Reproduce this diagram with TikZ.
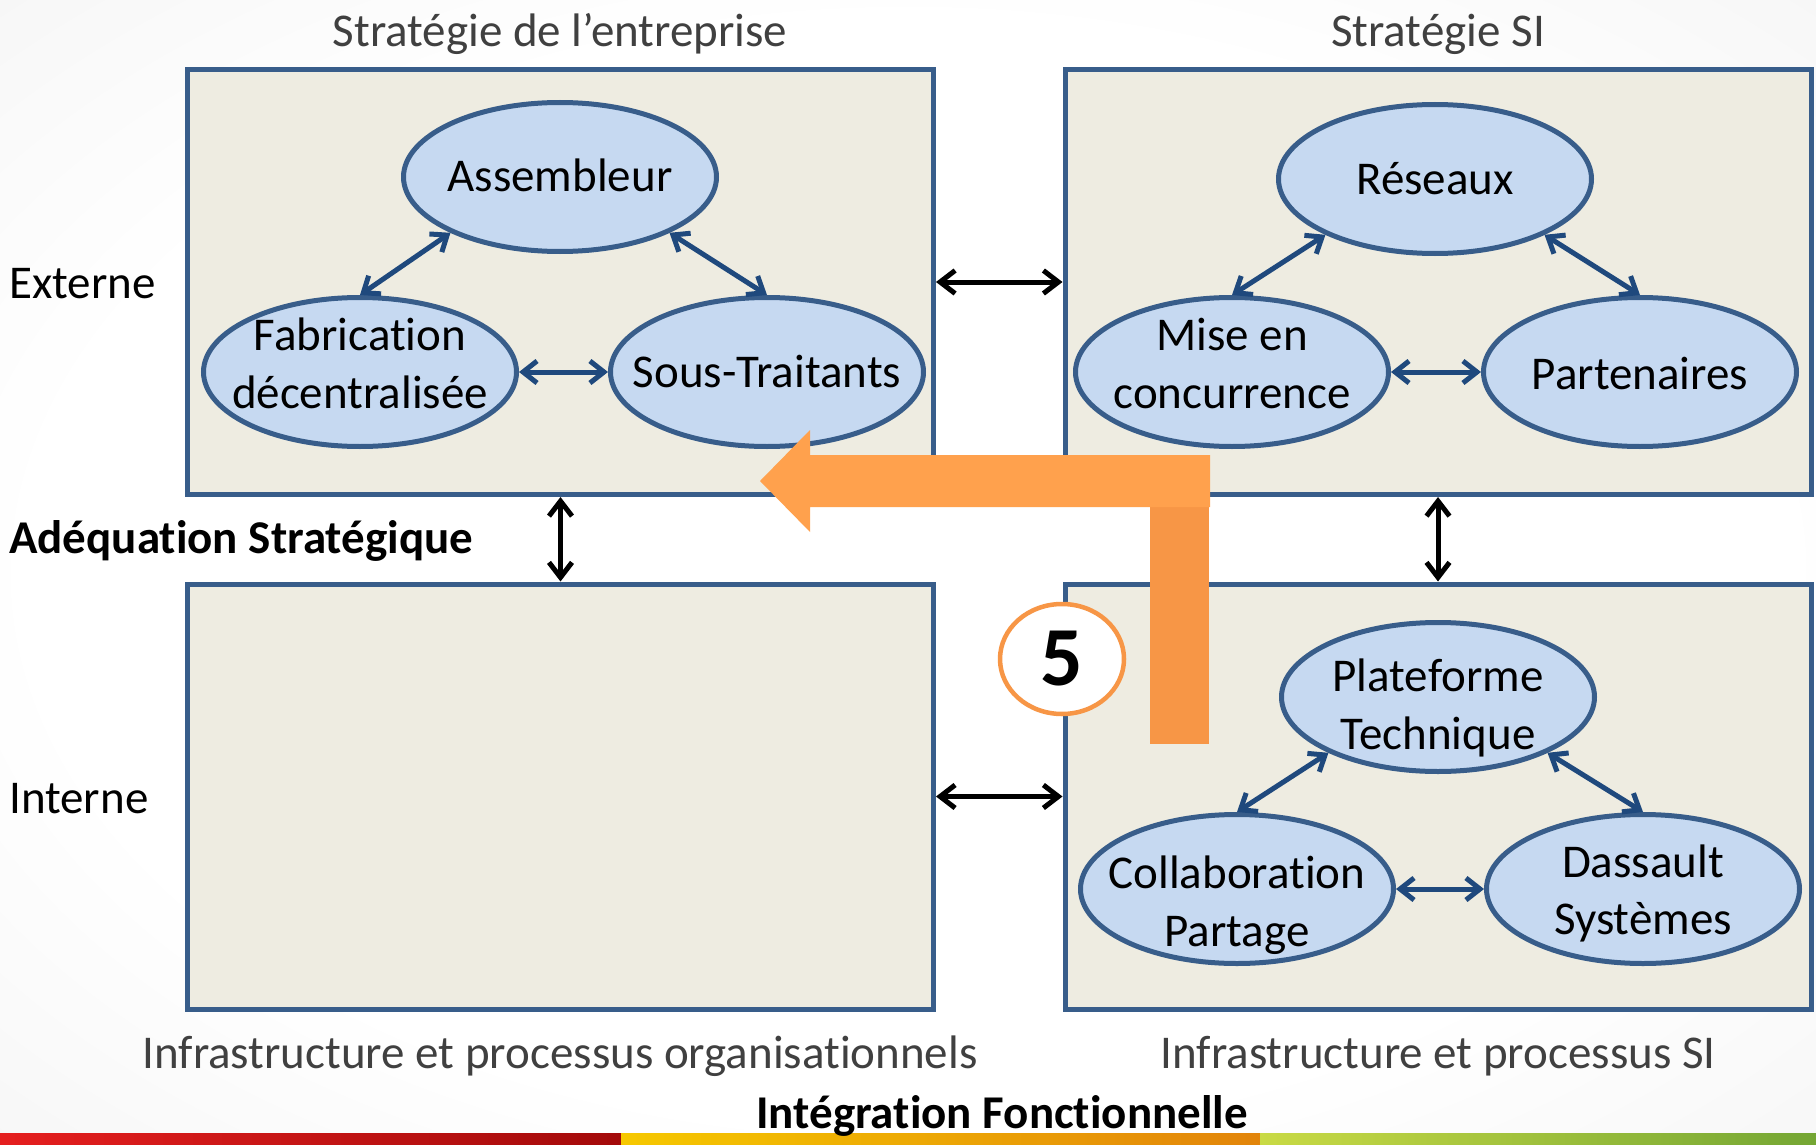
\documentclass[tikz,border=0pt]{standalone}
\usepackage{fontspec}
\setmainfont{Carlito}[Ligatures={NoCommon,NoContextual}]
\usetikzlibrary{arrows.meta,shapes.geometric,calc}
\definecolor{boxfill}{HTML}{EEECE1}
\definecolor{boxline}{HTML}{385D8A}
\definecolor{ellfill}{HTML}{C6D9F1}
\definecolor{connblue}{HTML}{1F497D}
\definecolor{orgA}{HTML}{FFA14D}
\definecolor{orgB}{HTML}{F79646}
\definecolor{titlegray}{HTML}{404040}
\definecolor{bgmid}{HTML}{EDEDED}
\definecolor{bgout}{HTML}{DCDCDC}
\definecolor{redA}{HTML}{E51F1F}
\definecolor{redB}{HTML}{A30A0A}
\definecolor{oraA}{HTML}{F6C800}
\definecolor{oraB}{HTML}{E2840A}
\definecolor{grnA}{HTML}{C9DA45}
\definecolor{grnB}{HTML}{74A634}
\pgfdeclareradialshading{bgshade}{\pgfpoint{0bp}{0bp}}{color(0bp)=(white); color(24bp)=(white); color(50bp)=(bgmid); color(72bp)=(bgout)}
\newcommand\fsz{\fontsize{47}{57}\selectfont}
\newcommand\noti{t\kern0pt i}
\begin{document}
\begin{tikzpicture}[x=1pt,y=-1pt,
  box/.style={rectangle, draw=boxline, fill=boxfill, line width=5pt, minimum width=746pt, minimum height=425pt, inner sep=0pt},
  ell/.style={ellipse, draw=boxline, fill=ellfill, line width=5pt, minimum width=313pt, minimum height=149pt, inner sep=0pt},
  elbl/.style={anchor=base, inner sep=0pt, font=\fsz, text=black},
  ttl/.style={anchor=base, inner sep=0pt, font=\fsz, text=titlegray},
  side/.style={anchor=base west, inner sep=0pt, font=\fsz, text=black},
  link/.style={draw=connblue, line width=5pt, {Straight Barb[length=14pt,width=22pt]}-{Straight Barb[length=14pt,width=22pt]}},
  barrow/.style={draw=black, line width=5pt, {Straight Barb[length=15pt,width=23pt]}-{Straight Barb[length=15pt,width=23pt]}}
]
\useasboundingbox (0,0) rectangle (1816,1145);
\shade[shading=bgshade] (0,0) rectangle (1816,1145);
% bottom strip
\shade[left color=redA, right color=redB] (0,1133) rectangle (621,1145);
\shade[left color=oraA, right color=oraB] (621,1133) rectangle (1260,1145);
\shade[left color=grnA, right color=grnB] (1260,1133) rectangle (1816,1145);

% boxes
\node[box] (tl) at (560.5,282) {};
\node[box] (tr) at (1438,282) {};
\node[box] (bl) at (560.5,796.5) {};
\node[box] (br) at (1438,796.5) {};

% ellipses top-left
\node[ell] (A) at (560,177) {};
\node[ell] (F) at (360,372) {};
\node[ell] (S) at (767,372) {};
% top-right
\node[ell] (R) at (1435,179) {};
\node[ell] (M) at (1232,372) {};
\node[ell] (P) at (1640,372) {};
% bottom-right
\node[ell] (PT) at (1438,697) {};
\node[ell] (C) at (1237,889) {};
\node[ell] (D) at (1643,889) {};

% ellipse labels
\node[elbl] (At) at ($(A)+(0,15)$) {Assembleur};
\node[elbl] (Ft1) at ($(F)+(0,-22)$) {Fabrica\noti on};
\node[elbl] (Ft2) at ($(F)+(0,36)$) {décentralisée};
\node[elbl] (St) at ($(S)+(0,15)$) {Sous-Traitants};
\node[elbl] (Rt) at ($(R)+(0,15)$) {Réseaux};
\node[elbl] (Mt1) at ($(M)+(0,-22)$) {Mise en};
\node[elbl] (Mt2) at ($(M)+(0,36)$) {concurrence};
\node[elbl] (Pt) at ($(P)+(0,17)$) {Partenaires};
\node[elbl] (PTt1) at ($(PT)+(0,-6)$) {Plateforme};
\node[elbl] (PTt2) at ($(PT)+(0,52)$) {Technique};
\node[elbl] (Ct1) at ($(C)+(0,-1)$) {Collabora\noti on};
\node[elbl] (Ct2) at ($(C)+(0,57)$) {Partage};
\node[elbl] (Dt1) at ($(D)+(0,-12)$) {Dassault};
\node[elbl] (Dt2) at ($(D)+(0,45)$) {Systèmes};

% blue links
\draw[link] (A.207) -- (F.north);
\draw[link] (A.333) -- (S.north);
\draw[link] (F.east) -- (S.west);
\draw[link] (R.207) -- (M.north);
\draw[link] (R.333) -- (P.north);
\draw[link] (M.east) -- (P.west);
\draw[link] (PT.207) -- (C.north);
\draw[link] (PT.333) -- (D.north);
\draw[link] (C.east) -- (D.west);

% black arrows between boxes
\draw[barrow] (tl.east) -- (tr.west);
\draw[barrow] (bl.east) -- (br.west);
\draw[barrow] (tl.south) -- (bl.north);
\draw[barrow] (tr.south) -- (br.north);

% orange bent arrow
\fill[orgB] (1150,506) rectangle (1209,744);
\fill[orgA] (760,481) -- (810,430) -- (810,455) -- (1210,455) -- (1210,507) -- (810,507) -- (810,532) -- cycle;

% step number
\node[ellipse, draw=orgB, fill=white, line width=4.5pt, minimum width=124pt, minimum height=110pt, inner sep=0pt, font=\bfseries\fontsize{84}{84}\selectfont] (five) at (1062,659) {5};

% titles and side labels
\node[ttl] (t1) at (560,47) {Stratégie de l’entreprise};
\node[ttl] (t2) at (1438,47) {Stratégie SI};
\node[side] (ext) at (9,298) {Externe};
\node[side, font=\fsz\bfseries] (adq) at (9,553) {Adéqua\noti on Stratégique};
\node[side] (int) at (9,813) {Interne};
\node[ttl] (b1) at (560,1068) {Infrastructure et processus organisa\noti onnels};
\node[ttl] (b2) at (1438,1068) {Infrastructure et processus SI};
\node[anchor=base, inner sep=0pt, font=\fsz\bfseries, text=black] (b3) at (1002,1128) {Intégra\noti on Fonc\noti onnelle};
\end{tikzpicture}
\end{document}
